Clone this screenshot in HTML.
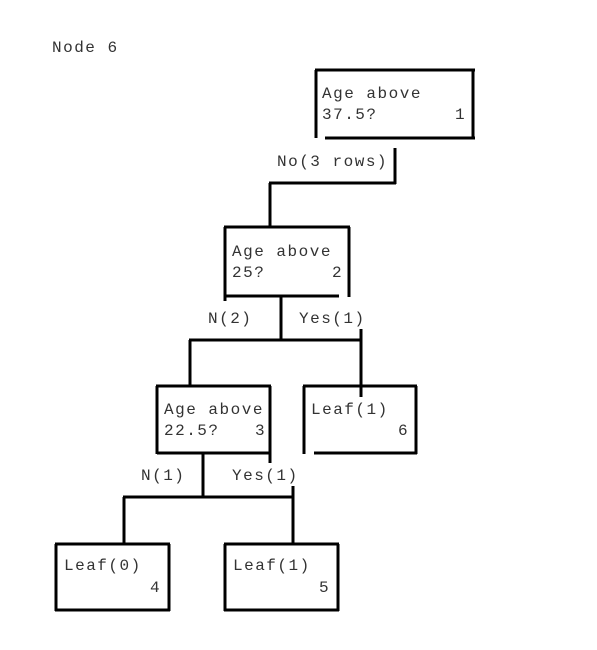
<!DOCTYPE html>
<html><head><style>
html,body{margin:0;padding:0;background:#fff;}
svg{display:block}
text{font-family:"Liberation Mono",monospace;font-size:16px;fill:#333;letter-spacing:1.5px}
line{stroke:#000;stroke-width:3}
</style></head><body>
<svg width="597" height="650" viewBox="0 0 597 650">
<text x="52" y="52">Node 6</text>
<!-- box1 -->
<line x1="315" y1="70" x2="475" y2="70"/><line x1="316" y1="70" x2="316" y2="138"/><line x1="473" y1="70" x2="473" y2="139"/><line x1="325" y1="138" x2="475" y2="138"/>
<text x="322" y="98">Age above</text><text x="322" y="119">37.5?</text><text x="455" y="119">1</text>
<line x1="395" y1="148" x2="395" y2="184"/><line x1="269" y1="183" x2="396" y2="183"/><line x1="270" y1="183" x2="270" y2="228"/>
<text x="277" y="166">No(3 rows)</text>
<!-- box2 -->
<line x1="224" y1="227" x2="350" y2="227"/><line x1="225" y1="227" x2="225" y2="301"/><line x1="349" y1="227" x2="349" y2="297"/><line x1="225" y1="296" x2="339" y2="296"/>
<text x="232" y="256">Age above</text><text x="232" y="277">25?</text><text x="332" y="277">2</text>
<line x1="281" y1="296" x2="281" y2="340"/><line x1="189" y1="340" x2="362" y2="340"/><line x1="361" y1="329" x2="361" y2="397"/><line x1="190" y1="340" x2="190" y2="387"/>
<text x="208" y="323">N(2)</text><text x="299" y="323">Yes(1)</text>
<!-- box3 -->
<line x1="156" y1="386" x2="271" y2="386"/><line x1="157" y1="386" x2="157" y2="454"/><line x1="270" y1="386" x2="270" y2="463"/><line x1="157" y1="453" x2="271" y2="453"/>
<text x="164" y="414">Age above</text><text x="164" y="435">22.5?</text><text x="255" y="435">3</text>
<!-- leaf6 -->
<line x1="303" y1="386" x2="417" y2="386"/><line x1="304" y1="386" x2="304" y2="454"/><line x1="416" y1="386" x2="416" y2="454"/><line x1="314" y1="453" x2="417" y2="453"/>
<text x="311" y="414">Leaf(1)</text><text x="398" y="435">6</text>
<line x1="203" y1="453" x2="203" y2="498"/><line x1="123" y1="497" x2="294" y2="497"/><line x1="293" y1="486" x2="293" y2="545"/><line x1="124" y1="497" x2="124" y2="545"/>
<text x="141" y="480">N(1)</text><text x="232" y="480">Yes(1)</text>
<!-- leaf4 -->
<line x1="55" y1="544" x2="170" y2="544"/><line x1="56" y1="544" x2="56" y2="611"/><line x1="169" y1="544" x2="169" y2="611"/><line x1="55" y1="610" x2="170" y2="610"/>
<text x="64" y="570">Leaf(0)</text><text x="150" y="592">4</text>
<!-- leaf5 -->
<line x1="224" y1="544" x2="339" y2="544"/><line x1="225" y1="544" x2="225" y2="611"/><line x1="338" y1="544" x2="338" y2="611"/><line x1="224" y1="610" x2="339" y2="610"/>
<text x="233" y="570">Leaf(1)</text><text x="319" y="592">5</text>
</svg>
</body></html>
